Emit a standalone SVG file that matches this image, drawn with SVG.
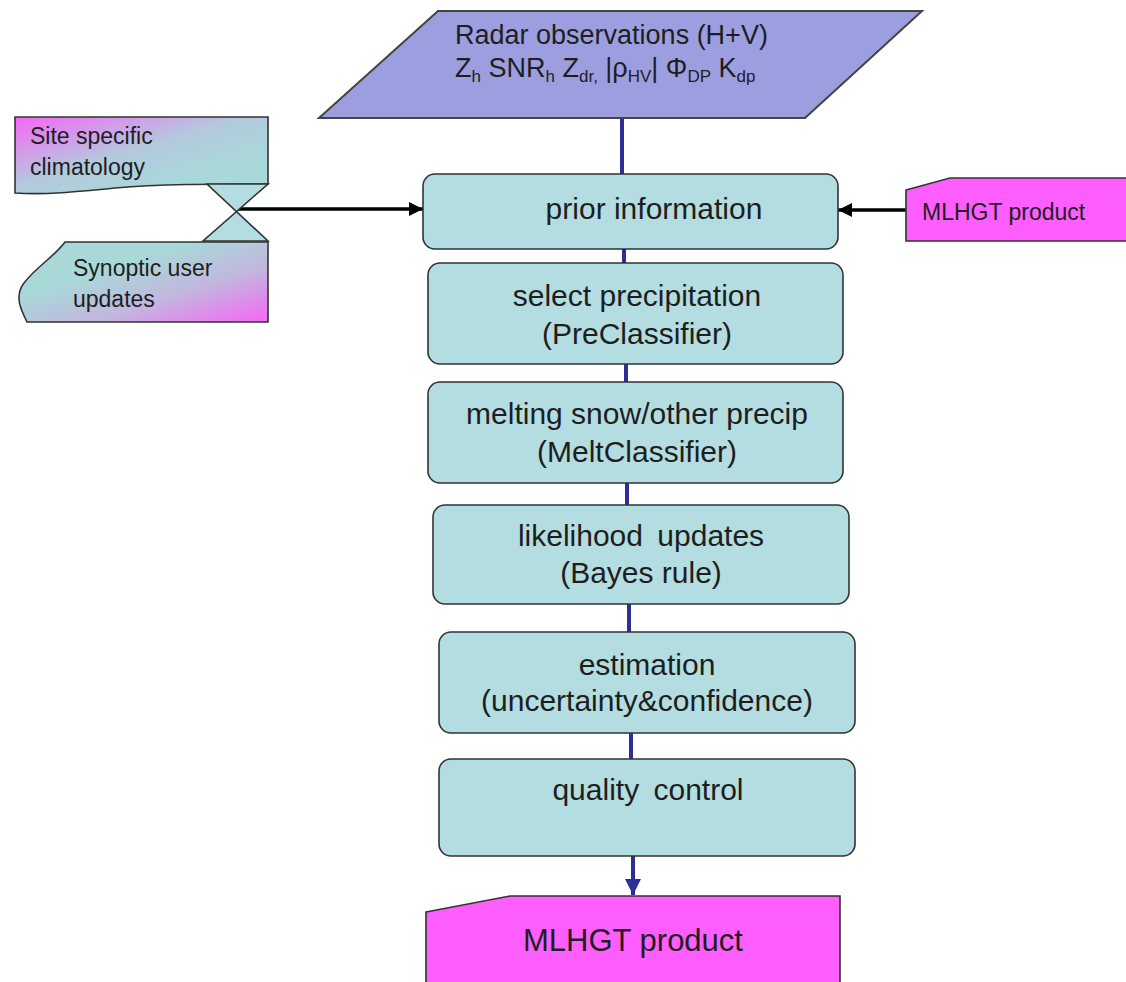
<svg xmlns="http://www.w3.org/2000/svg" width="1126" height="982" viewBox="0 0 1126 982">
<style>
text{font-family:"Liberation Sans",Arial,sans-serif;fill:#1e1e1e}
.box{fill:#b3dde0;stroke:#333;stroke-width:1.6}
.t30{font-size:30px;text-anchor:middle}
.conn{stroke:#2e2e96;stroke-width:4;fill:none}
.blk{stroke:#000;stroke-width:3.5;fill:none}
.sub{font-size:17px}
</style>
<defs>
<linearGradient id="gTop" x1="0" y1="0" x2="1" y2="1">
<stop offset="0" stop-color="#f766f7"/>
<stop offset="0.45" stop-color="#b3c9dd"/>
<stop offset="0.75" stop-color="#a9d8d9"/>
<stop offset="1" stop-color="#a9d8d9"/>
</linearGradient>
<linearGradient id="gBot" x1="0" y1="0" x2="1" y2="1">
<stop offset="0" stop-color="#a9d8d9"/>
<stop offset="0.35" stop-color="#a9d8d9"/>
<stop offset="0.65" stop-color="#c2b6de"/>
<stop offset="1" stop-color="#f766f7"/>
</linearGradient>
<marker id="ahNavy" markerUnits="userSpaceOnUse" markerWidth="18" markerHeight="16" refX="16" refY="8" orient="auto">
<path d="M0,0 L16,8 L0,16 Z" fill="#2e2e96"/>
</marker>
<marker id="ahBlk" markerUnits="userSpaceOnUse" markerWidth="16" markerHeight="14" refX="14" refY="7" orient="auto">
<path d="M0,0 L14,7 L0,14 Z" fill="#000"/>
</marker>
</defs>
<rect width="1126" height="982" fill="#fff"/>

<g id="connectors">
<line class="conn" x1="622" y1="118" x2="622" y2="175"/>
<line class="conn" x1="624" y1="248" x2="624" y2="264"/>
<line class="conn" x1="626" y1="363" x2="626" y2="383"/>
<line class="conn" x1="627" y1="482" x2="627" y2="506"/>
<line class="conn" x1="629" y1="603" x2="629" y2="633"/>
<line class="conn" x1="631" y1="732" x2="631" y2="760"/>
<line class="conn" x1="633" y1="856" x2="633" y2="895" marker-end="url(#ahNavy)"/>
<line class="blk" x1="237" y1="209" x2="423" y2="209" marker-end="url(#ahBlk)"/>
<line class="blk" x1="906" y1="210" x2="838" y2="210" marker-end="url(#ahBlk)"/>
</g>

<g id="radar">
<path d="M438,11 L922,11 L805,118 L319,118 Z" fill="#9c9ee0" stroke="#444" stroke-width="2"/>
<text x="455" y="44" font-size="27">Radar observations (H+V)</text>
<text x="455" y="77" font-size="27">Z<tspan class="sub" dy="5">h</tspan><tspan dy="-5"> SNR</tspan><tspan class="sub" dy="5">h</tspan><tspan dy="-5"> Z</tspan><tspan class="sub" dy="5">dr,</tspan><tspan dy="-5"> |ρ</tspan><tspan class="sub" dy="5">HV</tspan><tspan dy="-5">| Φ</tspan><tspan class="sub" dy="5">DP</tspan><tspan dy="-5"> K</tspan><tspan class="sub" dy="5">dp</tspan></text>
</g>

<g id="site">
<path d="M15,117 L268,117 L268,184 C210,184 160,184 115,188 C75,192 45,195 15,193 Z" fill="url(#gTop)" stroke="#333" stroke-width="1.6"/>
<text x="30" y="144" font-size="23">Site specific</text>
<text x="30" y="175" font-size="23">climatology</text>
</g>

<g id="collate">
<path d="M207,184 L268,184 L203,241 L268,241 Z" fill="#b3dde0" stroke="#333" stroke-width="1.6"/>
</g>

<g id="synoptic">
<path d="M65,242 L268,242 L268,322 L27,322 C21,310 14,296 24,283 C36,267 55,256 65,242 Z" fill="url(#gBot)" stroke="#333" stroke-width="1.6"/>
<text x="73" y="276" font-size="23">Synoptic user</text>
<text x="73" y="307" font-size="23">updates</text>
</g>

<g id="mlhgt-in">
<path d="M906,190 L950,178 L1130,178 L1130,241 L906,241 Z" fill="#fd5efd" stroke="#333" stroke-width="1.6"/>
<text x="922" y="220" font-size="23">MLHGT product</text>
</g>

<g id="prior">
<rect class="box" x="423" y="174" width="415" height="75" rx="12"/>
<text class="t30" x="654" y="219">prior information</text>
</g>

<g id="select">
<rect class="box" x="428" y="263" width="415" height="101" rx="12"/>
<text class="t30" x="637" y="306">select precipitation</text>
<text class="t30" x="637" y="344">(PreClassifier)</text>
</g>

<g id="melt">
<rect class="box" x="428" y="382" width="415" height="101" rx="12"/>
<text class="t30" x="637" y="424">melting snow/other precip</text>
<text class="t30" x="637" y="462">(MeltClassifier)</text>
</g>

<g id="likelihood">
<rect class="box" x="433" y="505" width="416" height="99" rx="12"/>
<text class="t30" x="641" y="546" word-spacing="6">likelihood updates</text>
<text class="t30" x="641" y="583">(Bayes rule)</text>
</g>

<g id="estimation">
<rect class="box" x="439" y="632" width="416" height="101" rx="12"/>
<text class="t30" x="647" y="675">estimation</text>
<text class="t30" x="647" y="711">(uncertainty&amp;confidence)</text>
</g>

<g id="quality">
<rect class="box" x="439" y="759" width="416" height="97" rx="12"/>
<text class="t30" x="648" y="800" word-spacing="6">quality control</text>
</g>

<g id="mlhgt-out">
<path d="M426,912 L510,896 L840,896 L840,990 L426,990 Z" fill="#fd5efd" stroke="#333" stroke-width="1.6"/>
<text x="633" y="951" font-size="31" text-anchor="middle">MLHGT product</text>
</g>
</svg>
